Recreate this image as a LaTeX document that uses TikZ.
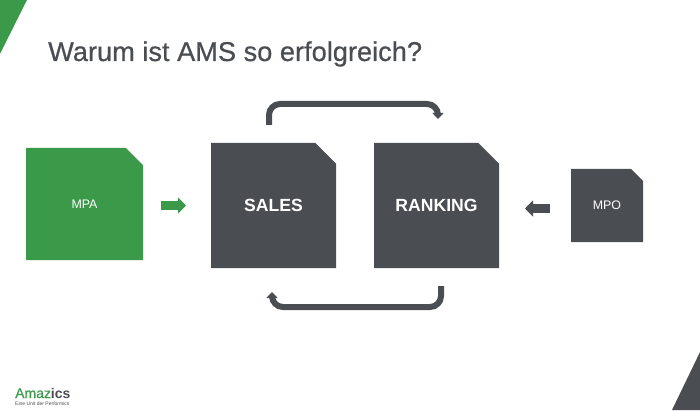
\documentclass[tikz,border=0pt]{standalone}
\usepackage{fontspec}
\setmainfont{Liberation Sans}
\newfontfamily\mediumfont[FakeBold=0.6]{Liberation Sans}
\usetikzlibrary{positioning,arrows.meta,shapes.misc}
\definecolor{amsgreen}{HTML}{3A9A4A}
\definecolor{amsdark}{HTML}{4A4D52}

\tikzset{
    sheet/.style={chamfered rectangle,chamfered rectangle corners=north east,
        inner sep=0pt,outer sep=0pt,text=white},
    bigsheet/.style={sheet,fill=amsdark,minimum width=125pt,minimum height=125pt,
        chamfered rectangle xsep=14.5pt,chamfered rectangle ysep=14.5pt,
        font=\fontsize{17.6}{20}\selectfont\bfseries},
    blockarrow/.style={line width=8.5pt,-{Triangle[length=8pt,width=16pt]}},
    looparrow/.style={amsdark,line width=6pt,rounded corners=11pt,
        -{Triangle[length=6pt,width=11pt]}},
}

\begin{document}
\begin{tikzpicture}[x=1pt,y=1pt]
    \useasboundingbox (0,0) rectangle (700,410);
    \fill[amsgreen] (0,410) -- (27,410) -- (0,356) -- cycle;
    \fill[amsdark] (672,0) -- (700,0) -- (700,58) -- cycle;

    \node [anchor=base west,text=amsdark,inner sep=0pt,font=\fontsize{27.2}{30}\selectfont\mediumfont] (title) at (48,349) {Warum ist AMS so erfolgreich?};

    \node [bigsheet] (sales) at (273.5,204.5) {SALES};
    \node [bigsheet,right=38pt of sales] (ranking) {RANKING};
    \node [sheet,fill=amsgreen,minimum width=117pt,minimum height=112pt,
        chamfered rectangle xsep=20pt,chamfered rectangle ysep=20pt,
        font=\fontsize{12.4}{14}\selectfont,left=68pt of sales,yshift=1.5pt] (mpa) {MPA};
    \node [sheet,fill=amsdark,minimum width=72pt,minimum height=73pt,
        chamfered rectangle xsep=7.5pt,chamfered rectangle ysep=7.5pt,
        font=\fontsize{12.4}{14}\selectfont,right=72pt of ranking] (mpo) {MPO};

    \draw [blockarrow,amsgreen,shorten <=18pt,shorten >=25pt] (mpa.east |- sales.west) -- (sales.west);
    \draw [blockarrow,amsdark,shorten <=21pt,shorten >=26pt] ([yshift=-3pt]mpo.west) -- ([yshift=-3pt]ranking.east);

    \draw [looparrow] ([shift={(-4.5,18)}]sales.north) -- ++(0,21) -| ([shift={(1.5,24)}]ranking.north);
    \draw [looparrow] ([shift={(4.5,-18)}]ranking.south) -- ++(0,-21) -| ([shift={(-1.5,-24)}]sales.south);

    \node [anchor=base west,inner sep=0pt,font=\fontsize{14}{16}\selectfont] (logo) at (15,12)
        {\textcolor{amsgreen}{\mediumfont Amaz}\textcolor{amsdark}{\textbf{ics}}};
    \node [anchor=base west,inner sep=0pt,text=amsdark,font=\fontsize{5}{6}\selectfont] (claim) at (15,4.5) {Eine Unit der Performics};
\end{tikzpicture}
\end{document}
